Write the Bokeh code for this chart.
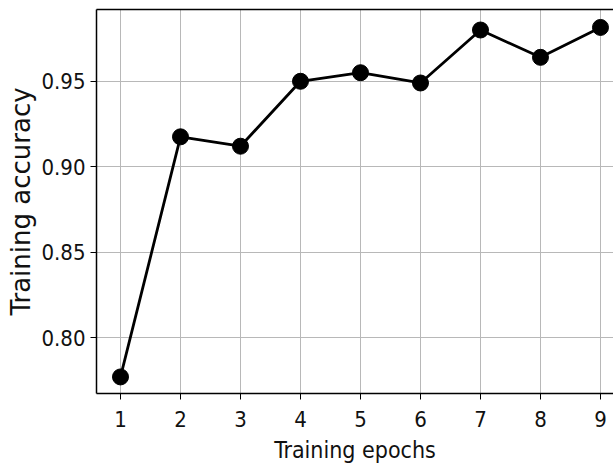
from bokeh.plotting import figure
from bokeh.models import Range1d, FixedTicker, PrintfTickFormatter, LinearAxis
from bokeh.embed import file_html
from bokeh.resources import INLINE

epochs = [1, 2, 3, 4, 5, 6, 7, 8, 9]
accuracy = [0.777, 0.9175, 0.912, 0.950, 0.955, 0.949, 0.980, 0.964, 0.9815]
x_ticks = [1, 2, 3, 4, 5, 6, 7, 8, 9]
y_ticks = [0.80, 0.85, 0.90, 0.95]

p = figure(width=613, height=468, output_backend="svg", toolbar_location=None,
           x_range=Range1d(0.6, 9.217), y_range=Range1d(0.7673, 0.992),
           min_border_left=96, min_border_right=0, min_border_top=9, min_border_bottom=75)

xa = p.below[0]
ya = p.left[0]

p.line(epochs, accuracy, line_color="black", line_width=2.8)
p.scatter(epochs, accuracy, size=16, fill_color="black", line_color="black")

p.outline_line_color = None

top = LinearAxis(major_tick_line_color=None, minor_tick_line_color=None,
                 major_tick_out=0, major_tick_in=0, major_label_standoff=0,
                 major_label_text_font_size="0px", axis_line_color="black",
                 axis_line_width=1.5, ticker=FixedTicker(ticks=[]))
p.add_layout(top, "above")

font = "DejaVu Sans Condensed"
for ax in (xa, ya):
    ax.axis_line_color = "black"
    ax.axis_line_width = 1.5
    ax.major_tick_line_color = "black"
    ax.major_tick_out = 6
    ax.major_tick_in = 0
    ax.minor_tick_line_color = None
    ax.major_label_text_font = font
    ax.major_label_text_font_size = "22px"
    ax.major_label_text_color = "#111111"
    ax.axis_label_text_font = font
    ax.axis_label_text_font_style = "normal"
    ax.axis_label_text_color = "#111111"

xa.ticker = FixedTicker(ticks=x_ticks)
ya.ticker = FixedTicker(ticks=y_ticks)
ya.formatter = PrintfTickFormatter(format="%.2f")
xa.axis_label = "Training epochs"
ya.axis_label = "Training accuracy"
xa.axis_label_text_font_size = "23px"
ya.axis_label_text_font = "DejaVu Sans"
ya.axis_label_text_font_size = "26px"
xa.major_label_standoff = 11
ya.major_label_standoff = 5
xa.axis_label_standoff = 7
ya.axis_label_standoff = 2

p.xgrid.grid_line_color = "#b8b8b8"
p.ygrid.grid_line_color = "#b8b8b8"
p.xgrid.grid_line_width = 1
p.ygrid.grid_line_width = 1

open("out.html", "w").write(file_html(p, INLINE))
